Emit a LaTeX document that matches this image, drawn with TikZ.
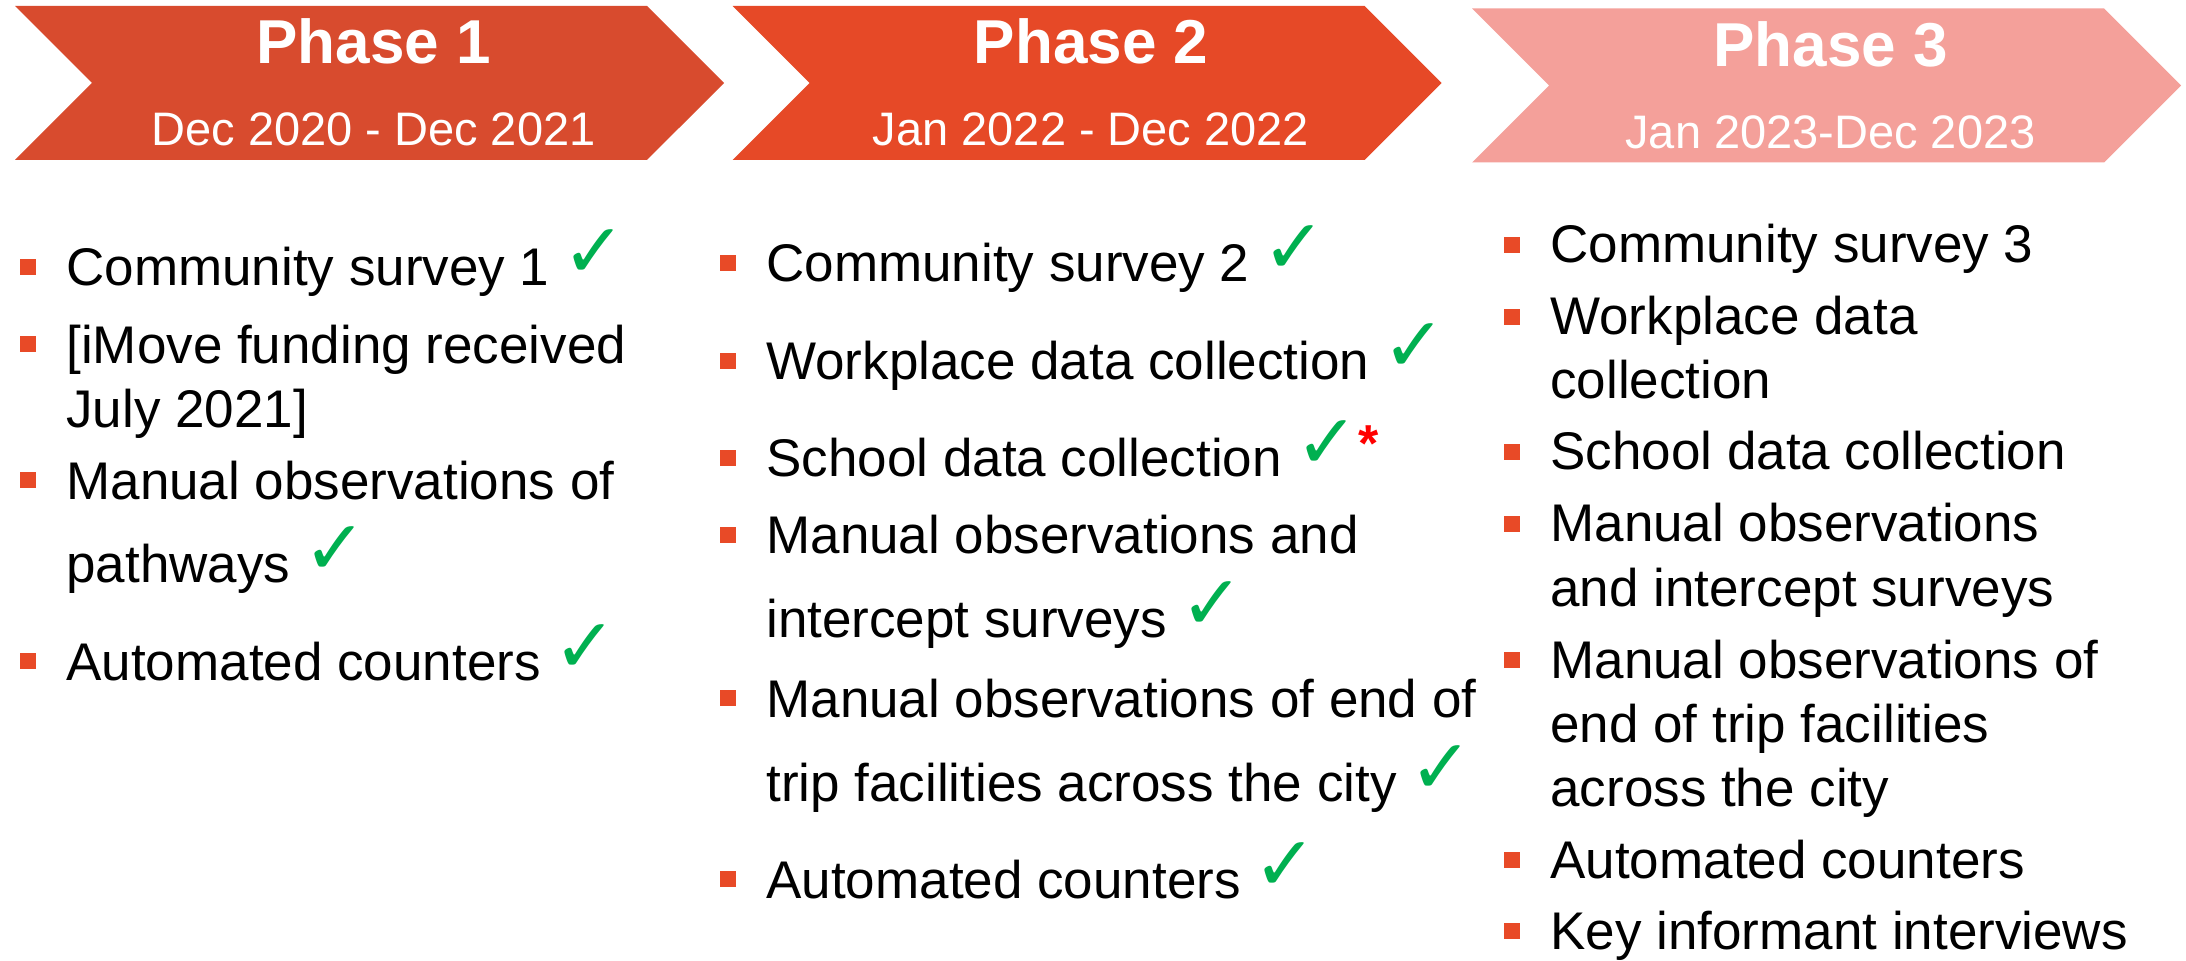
\documentclass[tikz,border=0pt]{standalone}
\usepackage{fontspec}
\setmainfont{Liberation Sans}
\newfontfamily\symfont{DejaVu Sans}
\usetikzlibrary{shapes.symbols, positioning, calc}

\definecolor{phaseone}{RGB}{216,75,46}
\definecolor{phasetwo}{RGB}{230,73,39}
\definecolor{phasethree}{RGB}{244,160,154}
\definecolor{bulletred}{RGB}{232,74,39}
\definecolor{tickgreen}{RGB}{0,176,80}

\newcommand{\tickmark}{\hspace{0.25em}{\symfont\fontsize{38}{38}\selectfont\color{tickgreen}\raisebox{4pt}{\char"2713}}}
\newcommand{\redstar}{\raisebox{0.3em}{\bfseries\fontsize{26}{26}\selectfont\color{red}*}}

\begin{document}
\begin{tikzpicture}[x=0.5pt, y=0.5pt,
  phase/.style={signal, signal to=east, signal from=west, minimum width=354.5pt, minimum height=77pt, inner sep=0pt},
  phasetitle/.style={text=white, font=\fontsize{31}{31}\selectfont\bfseries, inner sep=0pt, anchor=base},
  phasedate/.style={text=white, font=\fontsize{23.5}{23.5}\selectfont, inner sep=0pt, anchor=base},
  item/.style={anchor=base west, align=left, inner sep=0pt, font=\fontsize{26.5}{32}\selectfont},
  wideitem/.style={item, font=\fontsize{26.5}{42}\selectfont},
  bullet/.style={fill=bulletred, minimum size=8pt, inner sep=0pt}]
  \useasboundingbox (0,0) rectangle (2186,960);

  % Phasen-Pfeile
  \node[phase, fill=phaseone] (phase1) at (369.5, 877) {};
  \node[phase, fill=phasetwo] (phase2) at (1087, 877) {};
  \node[phase, fill=phasethree] (phase3) at (1826.5, 874.5) {};
  \foreach \n/\d in {1/Dec 2020 - Dec 2021, 2/Jan 2022 - Dec 2022, 3/Jan 2023-Dec 2023} {
    \node[phasetitle] (title\n) at ($(phase\n.center)+(4,19)$) {Phase \n};
    \node[phasedate] (date\n) at ($(phase\n.center)+(4,-63)$) {\d};
  }

  % Phase 1 (base = letzte Zeile)
  \node[item] (c1i1) at (66, 674) {Community survey 1\tickmark};
  \node[item] (c1i2) at (66, 532) {[iMove funding received\\July 2021]};
  \node[item] (c1i3) at (66, 378) {Manual observations of\\[9.5pt]pathways\tickmark};
  \node[item] (c1i4) at (66, 280) {Automated counters\tickmark};

  % Phase 2
  \node[wideitem] (c2i1) at (766, 678) {Community survey 2\tickmark};
  \node[wideitem] (c2i2) at (766, 580) {Workplace data collection\tickmark};
  \node[wideitem] (c2i3) at (766, 483) {School data collection\tickmark\redstar};
  \node[wideitem] (c2i4) at (766, 322) {Manual observations and\\intercept surveys\tickmark};
  \node[wideitem] (c2i5) at (766, 159) {Manual observations of end of\\trip facilities across the city\tickmark};
  \node[wideitem] (c2i6) at (766, 62) {Automated counters\tickmark};

  % Phase 3
  \node[item] (c3i1) at (1550, 697) {Community survey 3};
  \node[item] (c3i2) at (1550, 561) {Workplace data\\collection};
  \node[item] (c3i3) at (1550, 490) {School data collection};
  \node[item] (c3i4) at (1550, 354) {Manual observations\\and intercept surveys};
  \node[item] (c3i5) at (1550, 154) {Manual observations of\\end of trip facilities\\across the city};
  \node[item] (c3i6) at (1550, 82) {Automated counters};
  \node[item] (c3i7) at (1550, 11) {Key informant interviews};

  % Aufzaehlungszeichen (\up = Abstand zur ersten Zeile)
  \foreach \n/\up in {c1i1/19, c1i2/84, c1i3/102, c1i4/19, c2i1/19, c2i2/19, c2i3/19, c2i4/103, c2i5/103, c2i6/19,
                      c3i1/18, c3i2/82, c3i3/18, c3i4/82, c3i5/146, c3i6/18, c3i7/18}
    \node[bullet] (\n-b) at ($(\n.base west)+(-38,\up)$) {};
\end{tikzpicture}
\end{document}
